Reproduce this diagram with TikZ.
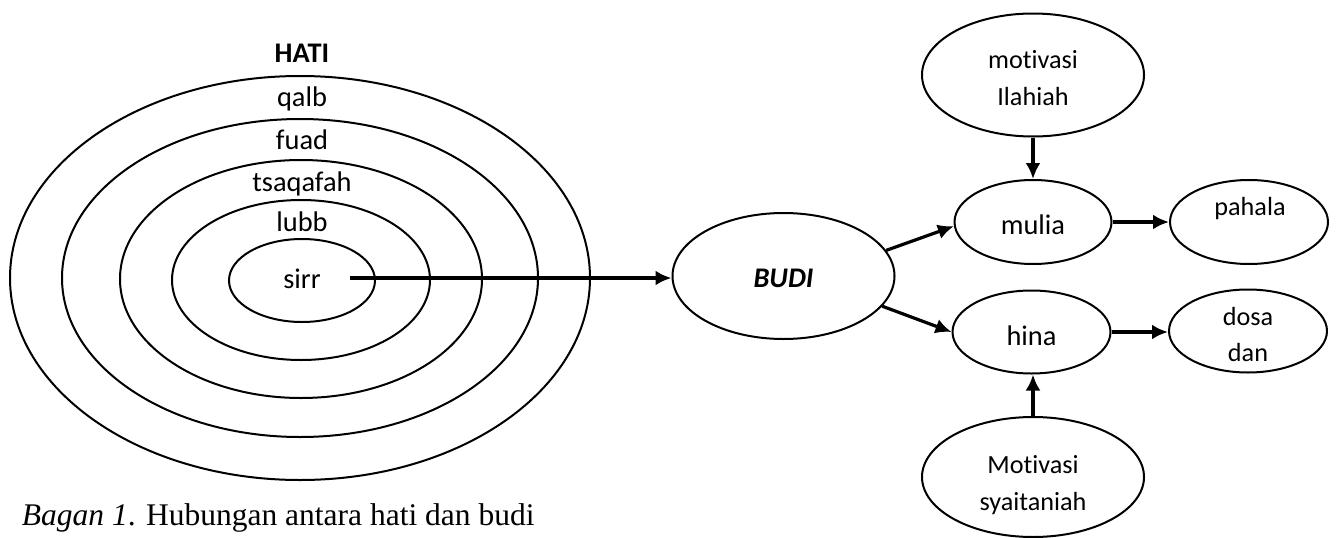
\documentclass[tikz,border=0pt]{standalone}
\usepackage{fontspec}
\setmainfont{Carlito}[Ligatures=NoCommon,RawFeature=-liga]
\newfontfamily\capfont{Liberation Serif}
\usetikzlibrary{arrows.meta,shapes.geometric}
\begin{document}
\begin{tikzpicture}[x=1pt,y=-1pt,
  oval/.style={draw,ellipse,line width=2pt,inner sep=0pt},
  big/.style={anchor=base,inner sep=0pt,font=\fontsize{28.4}{34}\selectfont},
  small/.style={anchor=base,inner sep=0pt,font=\fontsize{26.2}{32}\selectfont},
  link/.style={line width=3.2pt,-{Latex[length=16pt,width=15pt]}}]
\useasboundingbox (0,0) rectangle (1336,538);

% concentric layers of the heart
\node[oval,minimum width=580pt,minimum height=404pt] (qalbring) at (300,278) {};
\node[oval,minimum width=476pt,minimum height=318pt] (fuadring) at (300,278) {};
\node[oval,minimum width=362pt,minimum height=238pt] (tsaqring) at (301,279) {};
\node[oval,minimum width=258pt,minimum height=160pt] (lubbring) at (301,280) {};
\node[oval,minimum width=146pt,minimum height=83pt] (sirrring) at (302,280.5) {};

\node[big,font=\fontsize{28.4}{34}\selectfont\bfseries] (hati) at (302,62) {HATI};
\node[big] (qalb) at (302,106) {qalb};
\node[big] (fuad) at (302,149) {fuad};
\node[big] (tsaq) at (302,191.5) {tsaqafah};
\node[big] (lubb) at (302,231) {lubb};
\node[big] (sirr) at (302,288) {sirr};

% budi and its branches
\node[oval,minimum width=222pt,minimum height=126pt] (budi) at (783.5,276) {};
\node[big,font=\fontsize{28.4}{34}\selectfont\bfseries\itshape] (buditxt) at (783.5,287.3) {BUDI};

\node[oval,minimum width=222pt,minimum height=123pt] (ilahi) at (1033,75) {};
\node[small] (ilahi1) at (1033,68.3) {motivasi};
\node[small] (ilahi2) at (1033,105) {Ilahiah};

\node[oval,minimum width=157pt,minimum height=84pt] (mulia) at (1033,222) {};
\node[big] (muliatxt) at (1033,234) {mulia};

\node[oval,minimum width=158pt,minimum height=84pt] (pahala) at (1249,222) {};
\node[small] (pahalatxt) at (1250,215) {pahala};

\node[oval,minimum width=158pt,minimum height=83pt] (hina) at (1031.5,332) {};
\node[big] (hinatxt) at (1031.5,345) {hina};

\node[oval,minimum width=158pt,minimum height=83pt] (dosa) at (1248,331) {};
\node[small] (dosa1) at (1248,325) {dosa};
\node[small] (dosa2) at (1248,361.7) {dan};

\node[oval,minimum width=222pt,minimum height=120pt] (syait) at (1033,477) {};
\node[small] (syait1) at (1033,473.3) {Motivasi};
\node[small] (syait2) at (1033,510.7) {syaitaniah};

% connectors
\coordinate (sirrout) at (350,278);
\draw[link] (sirrout) -- (sirrout -| budi.west);
\draw[link] (budi.14) -- (mulia.183);
\draw[link] (budi.-17) -- (hina.west);
\draw[link] (ilahi.south) -- (mulia.north);
\draw[link] (syait.north) -- (syait.north |- hina.south);
\draw[link] (mulia.east) -- (pahala.west);
\draw[link] (hina.east) -- (hina.east -| dosa.west);

% caption
\node[anchor=base west,inner sep=0pt,font=\capfont\fontsize{31.5}{36}\selectfont] (caption) at (21.7,525) {\textit{Bagan 1}. Hubungan antara hati dan budi};
\end{tikzpicture}
\end{document}
